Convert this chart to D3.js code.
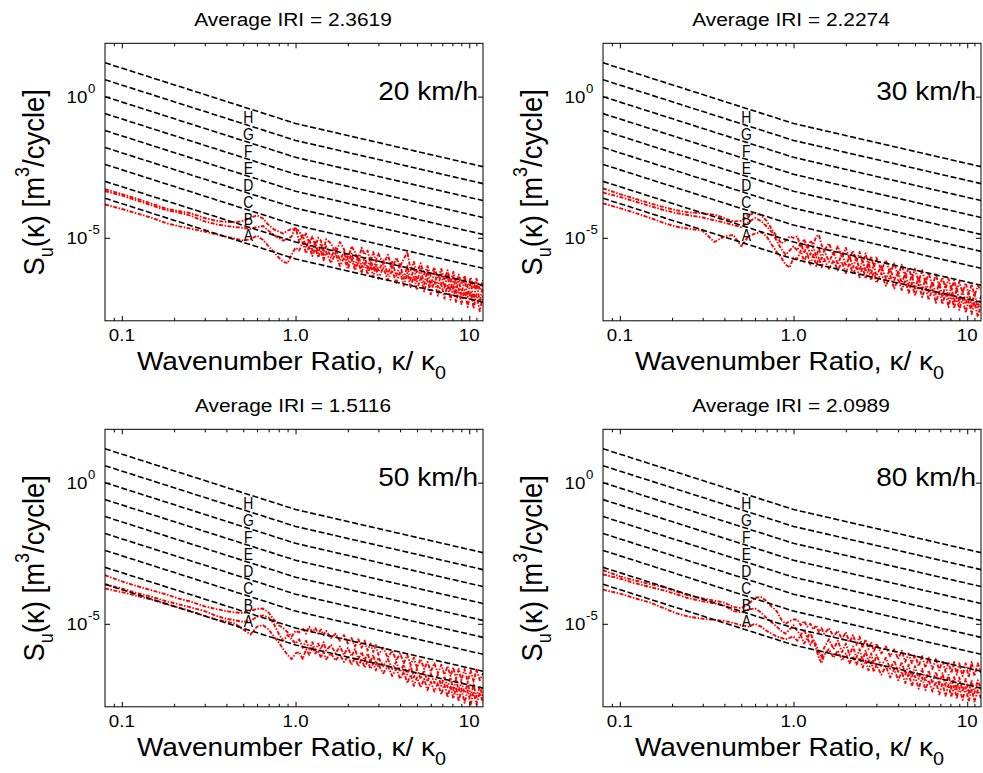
<!DOCTYPE html>
<html>
<head>
<meta charset="utf-8">
<script src="https://cdn.jsdelivr.net/npm/d3@7"></script>
<style>
  body { margin: 0; background: #fff; }
  text { font-family: "Liberation Sans", Arial, sans-serif; fill: #000; }
</style>
</head>
<body>
<div id="chart"></div>
<script>
// wavenumber ratio grid shared by every measured spectrum
const KAPPA = [0.08,0.1,0.12,0.15,0.18,0.21,0.25,0.3,0.35,0.4,0.45,0.5,0.55,0.6,0.65,0.7,0.75,0.8,0.85,0.9,0.95,1.0,
  1.05,1.1,1.15,1.2,1.25,1.3,1.35,1.4,1.45,1.5,
  1.6,1.7,1.8,1.9,2.0,2.1,2.2,2.3,2.4,2.5,2.6,2.7,2.8,2.9,3.0,
  3.2,3.4,3.6,3.8,4.0,4.2,4.4,4.6,4.8,5.0,
  5.25,5.5,5.75,6.0,
  6.3,6.6,6.9,7.2,7.5,7.8,8.1,8.4,8.7,9.0,
  9.4,9.8,10.2,10.6,
  11,11.5,12];

const SPEEDS = ["20 km/h", "30 km/h", "50 km/h", "80 km/h"];
const IRI = ["2.3619", "2.2274", "1.5116", "2.0989"];

// log10 of S_u(k), three runs per speed
const PSD_20 = [
  [-3.28,-3.45,-3.60,-3.80,-3.97,-4.05,-4.13,-4.30,-4.40,-4.44,-4.45,-4.40,-4.30,-4.20,-4.32,-4.55,-4.70,-4.78,-4.85,-4.75,-4.68,-4.70,
   -4.75,-5.05,-4.85,-5.20,-4.95,-5.30,-5.00,-5.10,-5.45,-5.05,
   -5.20,-5.55,-5.15,-5.40,-5.75,-5.30,-5.50,-5.85,-5.35,-5.60,-5.45,-5.90,-5.50,-5.80,-5.55,
   -5.95,-5.60,-6.10,-5.70,-6.00,-5.75,-5.50,-6.15,-5.85,-6.25,
   -5.90,-6.30,-6.00,-6.35,
   -6.05,-6.45,-6.10,-6.50,-6.15,-6.55,-6.20,-6.60,-6.30,-6.65,
   -6.35,-6.75,-6.40,-6.80,
   -6.45,-6.85,-6.50],
  [-3.35,-3.50,-3.66,-3.86,-4.02,-4.10,-4.22,-4.42,-4.52,-4.58,-4.62,-4.65,-4.68,-4.62,-4.58,-4.75,-4.90,-5.00,-5.10,-5.05,-4.95,-4.61,
   -5.15,-4.90,-5.35,-5.05,-5.45,-5.15,-5.55,-5.20,-5.60,-5.30,
   -5.70,-5.35,-5.80,-5.50,-5.95,-5.55,-6.00,-5.60,-6.05,-5.65,-6.10,-5.70,-6.15,-5.80,-6.20,
   -5.80,-6.30,-5.85,-6.35,-5.95,-6.45,-6.00,-6.50,-6.05,-6.55,
   -6.10,-6.65,-6.15,-6.70,
   -6.20,-6.75,-6.25,-6.80,-6.30,-6.90,-6.35,-6.95,-6.40,-7.05,
   -6.45,-7.10,-6.55,-7.20,
   -6.60,-7.25,-6.70],
  [-3.82,-3.98,-4.12,-4.30,-4.48,-4.58,-4.68,-4.78,-4.88,-4.96,-5.03,-5.10,-5.05,-4.92,-5.08,-5.30,-5.50,-5.70,-5.85,-5.90,-5.60,-5.35,
   -5.45,-5.15,-5.55,-5.30,-5.65,-5.35,-5.70,-5.45,-5.80,-5.50,
   -5.90,-5.55,-6.00,-5.70,-6.10,-5.75,-6.15,-5.85,-6.25,-5.90,-6.30,-5.95,-6.40,-6.00,-6.45,
   -6.05,-6.50,-6.15,-6.60,-6.20,-6.70,-6.25,-6.75,-6.35,-6.85,
   -6.40,-6.90,-6.45,-7.00,
   -6.50,-7.05,-6.60,-7.15,-6.65,-7.20,-6.70,-7.30,-6.80,-7.35,
   -6.85,-7.45,-6.90,-7.50,
   -7.00,-7.60,-7.05]
];
const PSD_30 = [
  [-3.25,-3.45,-3.60,-3.78,-3.92,-4.02,-4.10,-4.13,-4.18,-4.30,-4.42,-4.40,-4.20,-4.12,-4.20,-4.40,-4.70,-4.95,-5.20,-5.10,-4.95,-5.00,
   -4.95,-5.30,-5.05,-5.35,-5.10,-5.25,-4.95,-4.90,-5.25,-5.45,
   -5.20,-5.60,-5.30,-5.70,-5.35,-5.75,-5.45,-5.85,-5.50,-5.90,-5.55,-6.00,-5.65,-6.05,-5.70,
   -6.15,-5.80,-6.25,-5.90,-6.35,-5.95,-6.40,-6.05,-6.45,-6.10,
   -6.55,-6.15,-6.60,-6.25,
   -6.70,-6.30,-6.75,-6.40,-6.80,-6.45,-6.85,-6.50,-6.90,-6.55,
   -6.95,-6.60,-7.00,-6.65,
   -7.05,-6.70,-6.85],
  [-3.40,-3.55,-3.70,-3.88,-4.02,-4.12,-4.20,-4.28,-4.38,-4.46,-4.55,-4.62,-4.45,-4.30,-4.40,-4.60,-4.80,-5.10,-5.40,-5.60,-5.45,-5.30,
   -5.45,-5.15,-5.55,-5.25,-5.60,-5.30,-5.70,-5.35,-5.75,-5.45,
   -5.85,-5.50,-5.95,-5.55,-6.00,-5.65,-6.05,-5.70,-6.15,-5.80,-6.20,-5.85,-6.25,-5.95,-6.35,
   -6.00,-6.45,-6.10,-6.50,-6.20,-6.60,-6.25,-6.70,-6.30,-6.80,
   -6.40,-6.85,-6.45,-6.95,
   -6.55,-7.00,-6.60,-7.10,-6.65,-7.15,-6.70,-7.25,-6.75,-7.30,
   -6.85,-7.35,-6.90,-7.45,
   -6.95,-7.50,-7.05],
  [-3.78,-3.95,-4.10,-4.30,-4.48,-4.60,-4.68,-4.75,-5.15,-4.95,-4.90,-5.30,-4.95,-4.85,-4.80,-4.95,-5.25,-5.50,-5.70,-5.95,-6.05,-5.70,
   -5.75,-5.45,-5.85,-5.55,-5.95,-5.60,-6.00,-5.70,-6.05,-5.75,
   -6.10,-5.80,-6.15,-5.85,-6.25,-5.90,-6.30,-6.00,-6.40,-6.05,-6.45,-6.10,-6.50,-6.20,-6.60,
   -6.25,-6.70,-6.35,-6.80,-6.45,-6.85,-6.50,-6.95,-6.60,-7.05,
   -6.65,-7.10,-6.75,-7.20,
   -6.80,-7.30,-6.90,-7.35,-6.95,-7.45,-7.00,-7.50,-7.10,-7.55,
   -7.15,-7.65,-7.20,-7.70,
   -7.25,-7.80,-7.35]
];
const PSD_50 = [
  [-3.28,-3.50,-3.65,-3.82,-3.96,-4.10,-4.22,-4.38,-4.48,-4.55,-4.60,-4.62,-4.55,-4.47,-4.46,-4.60,-4.85,-5.05,-5.15,-5.30,-5.45,-5.25,
   -5.30,-5.15,-5.35,-5.10,-5.30,-5.15,-5.35,-5.20,-5.40,-5.25,
   -5.50,-5.35,-5.60,-5.40,-5.70,-5.50,-5.80,-5.55,-5.85,-5.60,-5.95,-5.70,-6.00,-5.75,-6.10,
   -5.85,-6.20,-5.95,-6.30,-6.05,-6.40,-6.10,-6.45,-6.20,-6.55,
   -6.25,-6.60,-6.35,-6.70,
   -6.40,-6.75,-6.45,-6.80,-6.50,-6.85,-6.55,-6.95,-6.60,-7.00,
   -6.60,-7.05,-6.65,-7.05,
   -6.60,-7.00,-6.75],
  [-3.60,-3.75,-3.90,-4.05,-4.20,-4.30,-4.42,-4.55,-4.72,-4.82,-4.88,-4.93,-4.90,-4.75,-4.70,-4.78,-5.00,-5.35,-5.60,-5.40,-5.55,-5.70,
   -5.55,-5.85,-5.60,-5.90,-5.65,-5.95,-5.70,-5.90,-5.65,-5.95,
   -5.75,-6.05,-5.80,-6.10,-5.85,-6.15,-5.90,-6.25,-6.00,-6.30,-6.05,-6.35,-6.10,-6.45,-6.20,
   -6.50,-6.25,-6.60,-6.35,-6.70,-6.45,-6.80,-6.50,-6.90,-6.60,
   -6.95,-6.65,-7.05,-6.75,
   -7.10,-6.80,-7.20,-6.85,-7.25,-6.90,-7.35,-6.95,-7.40,-7.05,
   -7.45,-7.10,-7.55,-7.15,
   -7.60,-7.20,-7.65],
  [-3.75,-3.88,-4.00,-4.15,-4.30,-4.42,-4.55,-4.72,-4.85,-4.92,-5.00,-5.20,-5.38,-5.10,-5.05,-5.20,-5.45,-5.65,-5.90,-6.10,-6.25,-6.05,
   -6.00,-6.25,-5.90,-6.10,-5.85,-6.05,-5.95,-6.20,-6.00,-6.25,
   -6.05,-6.30,-6.10,-6.35,-6.15,-6.45,-6.20,-6.50,-6.25,-6.55,-6.30,-6.60,-6.40,-6.65,-6.45,
   -6.75,-6.50,-6.85,-6.60,-6.95,-6.70,-7.10,-6.80,-7.20,-6.90,
   -7.25,-6.95,-7.35,-7.05,
   -7.40,-7.10,-7.50,-7.15,-7.60,-7.20,-7.65,-7.25,-7.75,-7.30,
   -7.80,-7.35,-7.85,-7.40,
   -7.85,-7.45,-7.80]
];
const PSD_80 = [
  [-3.10,-3.32,-3.45,-3.60,-3.70,-3.85,-4.00,-4.10,-4.18,-4.25,-4.40,-4.45,-4.30,-4.08,-4.05,-4.20,-4.40,-4.55,-4.85,-5.00,-4.90,-4.85,
   -4.85,-5.05,-4.90,-5.10,-5.00,-5.20,-5.05,-5.30,-5.15,-5.35,
   -5.15,-5.45,-5.25,-5.55,-5.30,-5.65,-5.40,-5.75,-5.45,-5.85,-5.55,-5.90,-5.65,-6.00,-5.70,
   -6.05,-5.80,-6.15,-5.90,-6.25,-5.95,-6.35,-6.05,-6.40,-6.10,
   -6.50,-6.15,-6.55,-6.20,
   -6.60,-6.25,-6.65,-6.30,-6.70,-6.35,-6.75,-6.35,-6.80,-6.40,
   -6.85,-6.40,-6.90,-6.35,
   -6.85,-6.40,-6.75],
  [-3.25,-3.40,-3.55,-3.70,-3.82,-3.95,-4.10,-4.20,-4.28,-4.35,-4.55,-4.60,-4.50,-4.45,-4.60,-4.80,-4.95,-5.10,-5.25,-5.35,-5.20,-5.05,
   -5.25,-5.40,-5.20,-5.50,-5.30,-5.60,-5.75,-6.00,-6.20,-5.85,
   -5.55,-5.90,-5.60,-6.00,-5.70,-6.10,-5.80,-6.20,-5.90,-6.30,-5.95,-6.35,-6.05,-6.45,-6.10,
   -6.50,-6.20,-6.60,-6.30,-6.70,-6.35,-6.80,-6.45,-6.90,-6.50,
   -6.95,-6.60,-7.05,-6.65,
   -7.10,-6.70,-7.15,-6.75,-7.20,-6.80,-7.30,-6.85,-7.35,-6.90,
   -7.40,-6.95,-7.45,-7.00,
   -7.45,-7.00,-7.35],
  [-3.79,-3.93,-4.08,-4.25,-4.45,-4.62,-4.75,-4.82,-4.86,-4.90,-4.97,-5.05,-5.10,-5.00,-5.10,-5.25,-5.35,-5.45,-5.50,-5.55,-5.50,-5.45,
   -5.60,-5.40,-5.70,-5.50,-5.75,-5.55,-5.90,-6.20,-6.40,-6.10,
   -5.90,-6.20,-5.95,-6.30,-6.05,-6.40,-6.15,-6.45,-6.20,-6.55,-6.30,-6.65,-6.35,-6.70,-6.45,
   -6.80,-6.50,-6.90,-6.60,-7.00,-6.70,-7.10,-6.75,-7.20,-6.85,
   -7.30,-6.90,-7.35,-7.00,
   -7.40,-7.05,-7.50,-7.10,-7.55,-7.15,-7.60,-7.20,-7.65,-7.25,
   -7.70,-7.25,-7.75,-7.30,
   -7.75,-7.35,-7.65]
];
const PSD = [PSD_20, PSD_30, PSD_50, PSD_80];

// road class boundaries (log10 S) read at k/k0 = 0.08, 1 and 12, lowest first
const CLASS_K = [0.08, 1, 12];
const CLASS_BOUNDS = [
  [-3.60, -5.75, -7.28],
  [-3.00, -5.15, -6.68],
  [-2.40, -4.55, -6.08],
  [-1.80, -3.95, -5.48],
  [-1.20, -3.35, -4.88],
  [-0.60, -2.75, -4.28],
  [ 0.00, -2.15, -3.68],
  [ 0.60, -1.55, -3.08],
  [ 1.20, -0.95, -2.48]
];
const CLASS_NAMES = ["A", "B", "C", "D", "E", "F", "G", "H"];
const CLASS_LABEL_K = 0.535;

const X_TICKS = [0.1, 1, 10];
const X_TICK_LABELS = ["0.1", "1.0", "10"];
const X_MINOR = [0.09, 0.2, 0.3, 0.4, 0.5, 0.6, 0.7, 0.8, 0.9, 2, 3, 4, 5, 6, 7, 8, 9, 11];
const Y_TICKS = [1e0, 1e-5];
const Y_TICK_EXP = ["0", "-5"];

// layout
const PW = 378, PH = 277.5;
const ORIGINS = [[105, 43.3], [603, 43.3], [105, 429.3], [603, 429.3]];
const SX = 1.1; // glyphs in the reference are a bit wide

const svg = d3.select("#chart").append("svg")
  .attr("width", 983).attr("height", 773);

const x = d3.scaleLog().domain([0.08, 12]).range([0, PW]);
const y = d3.scaleLog().domain([Math.pow(10, -7.94), Math.pow(10, 1.89)]).range([PH, 0]);

function addText(g, px, py, str, size, anchor, sx, rot) {
  const t = g.append("text")
    .attr("transform", "translate(" + px + "," + py + ") scale(" + (sx || SX) + ",1)" + (rot ? " rotate(" + rot + ")" : ""))
    .attr("font-size", size)
    .attr("text-anchor", anchor || "start");
  if (str != null) t.text(str);
  return t;
}

// log-log interpolation along a class boundary
function boundAt(b, k) {
  const lk = Math.log10(k);
  const i = k < CLASS_K[1] ? 0 : 1;
  const k0 = Math.log10(CLASS_K[i]), k1 = Math.log10(CLASS_K[i + 1]);
  return b[i] + (b[i + 1] - b[i]) * (lk - k0) / (k1 - k0);
}

const logLine = d3.line()
  .x(d => x(d[0]))
  .y(d => y(Math.pow(10, d[1])));

ORIGINS.forEach(function(o, p) {
  const g = svg.append("g").attr("transform", "translate(" + o[0] + "," + o[1] + ")");

  g.append("clipPath").attr("id", "clip" + p)
    .append("rect").attr("width", PW).attr("height", PH);

  const plot = g.append("g").attr("clip-path", "url(#clip" + p + ")");

  // measured spectra
  PSD[p].forEach(function(run) {
    const pts = KAPPA.map((k, i) => [k, run[i]]).filter(d => d[1] != null);
    plot.append("path")
      .attr("d", logLine(pts))
      .attr("fill", "none")
      .attr("stroke", "#ff0000")
      .attr("stroke-width", 1.9)
      .attr("stroke-dasharray", "4,1.5,1.5,1.5")
      .attr("stroke-linejoin", "round");
  });

  // class boundaries
  CLASS_BOUNDS.forEach(function(b) {
    const pts = CLASS_K.map((k, i) => [k, b[i]]);
    plot.append("path")
      .attr("d", logLine(pts))
      .attr("fill", "none")
      .attr("stroke", "#000")
      .attr("stroke-width", 1.6)
      .attr("stroke-dasharray", "6,2.6");
  });

  // class letters
  CLASS_NAMES.forEach(function(name, i) {
    const mid = (boundAt(CLASS_BOUNDS[i], CLASS_LABEL_K) + boundAt(CLASS_BOUNDS[i + 1], CLASS_LABEL_K)) / 2;
    addText(g, x(CLASS_LABEL_K), y(Math.pow(10, mid)) + 6, name, 17, "middle", 0.82);
  });

  // ticks on all four sides
  const noLab = () => "";
  g.append("g").attr("transform", "translate(0," + PH + ")")
    .call(d3.axisBottom(x).tickValues(X_TICKS).tickSize(-5).tickFormat(noLab));
  g.append("g").attr("transform", "translate(0," + PH + ")")
    .call(d3.axisBottom(x).tickValues(X_MINOR).tickSize(-3).tickFormat(noLab));
  g.append("g")
    .call(d3.axisTop(x).tickValues(X_TICKS).tickSize(-5).tickFormat(noLab));
  g.append("g")
    .call(d3.axisTop(x).tickValues(X_MINOR).tickSize(-3).tickFormat(noLab));
  g.append("g")
    .call(d3.axisLeft(y).tickValues(Y_TICKS).tickSize(-5).tickFormat(noLab));
  g.append("g").attr("transform", "translate(" + PW + ",0)")
    .call(d3.axisRight(y).tickValues(Y_TICKS).tickSize(-5).tickFormat(noLab));
  g.selectAll(".domain").remove();
  g.selectAll(".tick line").attr("stroke", "#000");

  g.append("rect")
    .attr("width", PW).attr("height", PH)
    .attr("fill", "none").attr("stroke", "#000").attr("stroke-width", 1);

  // tick labels
  X_TICKS.forEach(function(v, i) {
    addText(g, x(v), PH + 20.5, X_TICK_LABELS[i], 17, "middle");
  });
  Y_TICKS.forEach(function(v, i) {
    addText(g, -17.7, y(v) + 6.3, "10", 17, "end");
    addText(g, -17, y(v) - 3.4, Y_TICK_EXP[i], 12, "start");
  });

  // title and speed
  addText(g, 188, -17.3, "Average IRI = " + IRI[p], 19, "middle");
  addText(g, 373, 56.7, SPEEDS[p], 25.5, "end");

  // axis titles
  const xl = addText(g, 186.5, 326.7, null, 25.5, "middle");
  xl.append("tspan").text("Wavenumber Ratio, κ/ κ");
  xl.append("tspan").attr("font-size", 18).attr("dy", 9).text("0");

  const yl = addText(g, -61, 139, null, 27.5, "middle", SX, -90);
  yl.append("tspan").text("S");
  yl.append("tspan").attr("font-size", 18).attr("dy", 8).text("u");
  yl.append("tspan").attr("dy", -8).text("(κ) [m");
  yl.append("tspan").attr("font-size", 18).attr("dy", -14).text("3");
  yl.append("tspan").attr("dy", 14).text("/cycle]");
});
</script>
</body>
</html>
